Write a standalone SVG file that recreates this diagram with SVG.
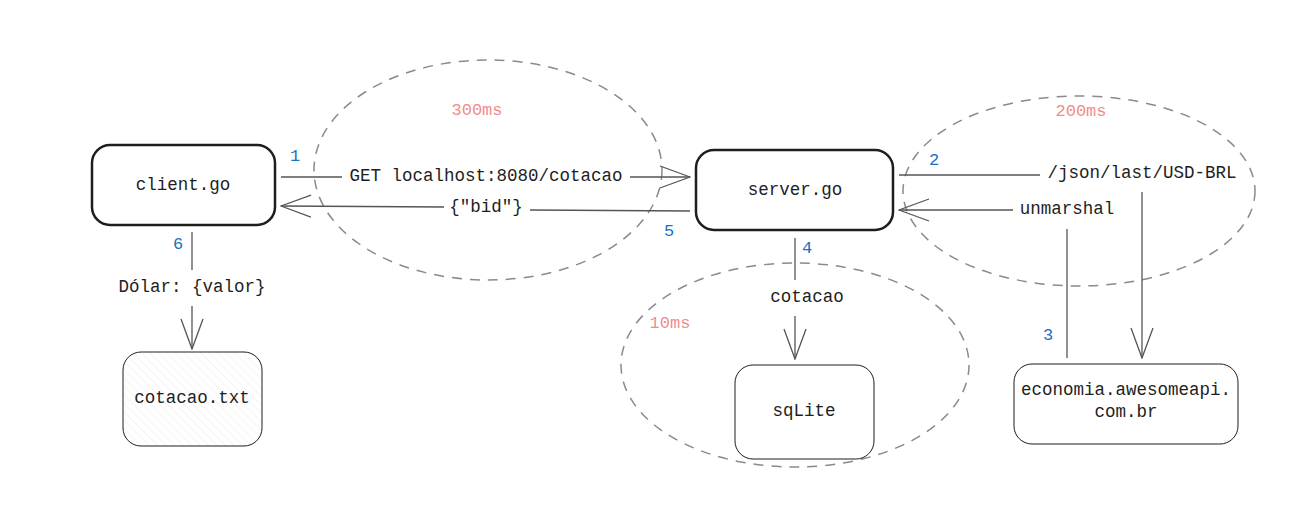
<svg xmlns="http://www.w3.org/2000/svg" width="1307" height="517" viewBox="0 0 1307 517">
<defs>
<pattern id="hatch" width="6" height="6" patternUnits="userSpaceOnUse" patternTransform="rotate(-45)">
<line x1="0" y1="0" x2="0" y2="6" stroke="#ececec" stroke-width="1"/>
</pattern>
<marker id="ah" viewBox="0 0 32 24" refX="31" refY="12" markerWidth="32" markerHeight="24" markerUnits="userSpaceOnUse" orient="auto">
<path d="M1,1 L31,12 L1,23" fill="none" stroke="#555" stroke-width="1.3"/>
</marker>
<style>
text{font-family:"Liberation Mono","DejaVu Sans Mono",monospace;font-size:17.5px;fill:#1e1e1e;text-anchor:middle;dominant-baseline:central}
.num{fill:#1971c2;font-size:17px}
.ms{fill:#f08c8c;font-size:17px}
.box{fill:#fff;stroke:#1e1e1e;stroke-width:2.5}
.thin{fill:#fff;stroke:#1e1e1e;stroke-width:1}
.zone{fill:none;stroke:#8a8a8a;stroke-width:1.5;stroke-dasharray:10 8}
.c{fill:none;stroke:#555;stroke-width:1.3}
</style>
</defs>
<rect width="1307" height="517" fill="#fff"/>
<g id="zones">
<ellipse class="zone" cx="488" cy="170" rx="174" ry="110"/>
<ellipse class="zone" cx="1079" cy="191" rx="176" ry="95"/>
<ellipse class="zone" cx="795" cy="365" rx="174" ry="102"/>
<text class="ms" x="477" y="110">300ms</text>
<text class="ms" x="1081" y="111">200ms</text>
<text class="ms" x="670" y="323">10ms</text>
</g>
<g id="client">
<rect class="box" x="92" y="145" width="183" height="80" rx="18"/>
<text x="183" y="185">client.go</text>
</g>
<g id="server">
<rect class="box" x="696" y="150" width="197" height="80" rx="18"/>
<text x="795" y="190">server.go</text>
</g>
<g id="cotacao-txt">
<rect x="123" y="352" width="139" height="94" rx="18" fill="#fff"/>
<rect x="123" y="352" width="139" height="94" rx="18" fill="url(#hatch)" stroke="#1e1e1e" stroke-width="1"/>
<text x="192" y="398">cotacao.txt</text>
</g>
<g id="sqlite">
<rect class="thin" x="735" y="365" width="139" height="94" rx="18"/>
<text x="804" y="411">sqLite</text>
</g>
<g id="economia">
<rect class="thin" x="1014" y="364" width="224" height="80" rx="18"/>
<text x="1126" y="390">economia.awesomeapi.</text>
<text x="1126" y="412">com.br</text>
</g>
<g id="connectors">
<line class="c" x1="281" y1="177" x2="342" y2="177"/>
<line class="c" x1="630" y1="177" x2="690" y2="177" marker-end="url(#ah)"/>
<text x="486" y="176">GET localhost:8080/cotacao</text>
<text class="num" x="295" y="156">1</text>

<line class="c" x1="690" y1="211" x2="530" y2="210"/>
<line class="c" x1="444" y1="207" x2="281" y2="206" marker-end="url(#ah)"/>
<text x="486" y="207">{"bid"}</text>
<text class="num" x="669" y="231">5</text>

<line class="c" x1="899" y1="175" x2="1040" y2="175"/>
<text x="1142" y="173">/json/last/USD-BRL</text>
<line class="c" x1="1142" y1="192" x2="1142" y2="358" stroke="#1e1e1e" marker-end="url(#ah)"/>
<text class="num" x="934" y="160">2</text>

<line class="c" x1="1067" y1="358" x2="1067" y2="229" stroke="#1e1e1e"/>
<text x="1067" y="209">unmarshal</text>
<line class="c" x1="1013" y1="210" x2="899" y2="210" marker-end="url(#ah)"/>
<text class="num" x="1048" y="335">3</text>

<line class="c" x1="795" y1="238" x2="795" y2="280"/>
<text x="807" y="297">cotacao</text>
<line class="c" x1="795" y1="316" x2="795" y2="359" marker-end="url(#ah)"/>
<text class="num" x="807" y="248">4</text>

<line class="c" x1="192" y1="232" x2="192" y2="270" stroke="#1e1e1e"/>
<text x="192" y="287">Dólar: {valor}</text>
<line class="c" x1="192" y1="306" x2="192" y2="349" marker-end="url(#ah)"/>
<text class="num" x="178" y="244">6</text>
</g>
</svg>
